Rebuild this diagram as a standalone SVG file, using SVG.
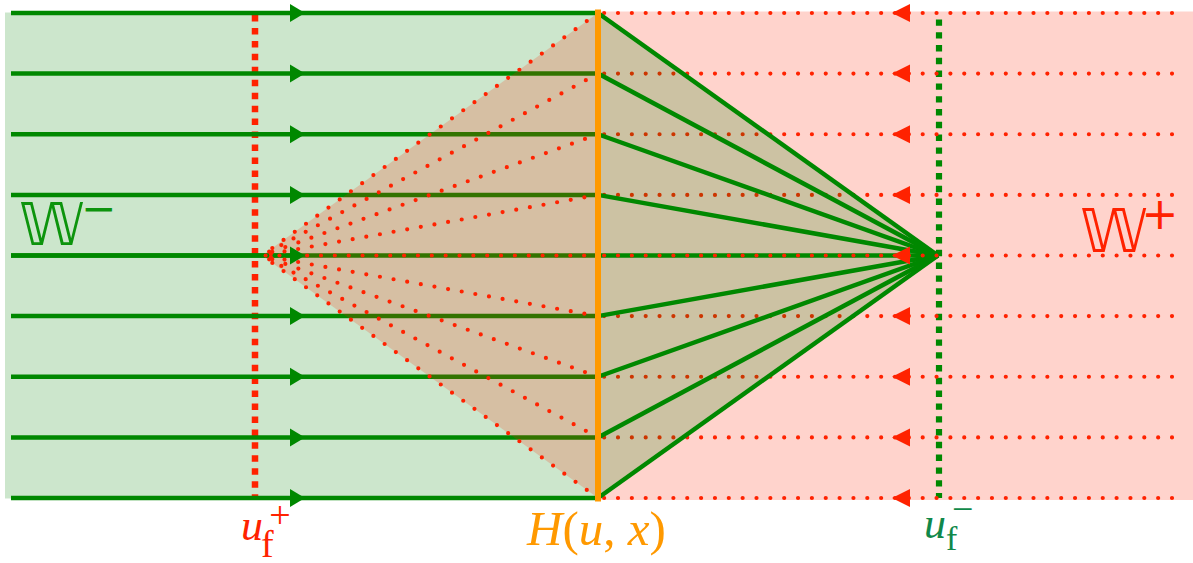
<svg xmlns="http://www.w3.org/2000/svg" width="1193" height="563" viewBox="0 0 1193 563">
<style>
.gl{stroke:#008800;stroke-width:4.5;fill:none}
.rd{stroke:#ff2200;stroke-width:4.2;stroke-linecap:round;stroke-dasharray:0 13.85;fill:none}
.ga{fill:#008800}
.ra{fill:#ff2200}
.it{font-family:"Liberation Serif",serif;font-style:italic}
.up{font-family:"Liberation Serif",serif;font-style:normal}
.ds{font-family:"DejaVu Sans",sans-serif}
</style>
<g id="regions">
<rect x="5" y="12.5" width="593" height="486" fill="#008000" fill-opacity="0.2"/>
<rect x="598" y="11.5" width="595" height="488.5" fill="#ff2200" fill-opacity="0.2"/>
</g>
<g id="fronts">
<line x1="255" y1="15" x2="255" y2="498" stroke="#ff2200" stroke-width="6.5" stroke-dasharray="6.5 6.45"/>
<line x1="939" y1="19.4" x2="939" y2="498" stroke="#008800" stroke-width="6.2" stroke-dasharray="6.4 6.4"/>
</g>
<g id="connectors">
<g id="green-rows" class="gl">
<line x1="11" y1="13" x2="598" y2="13"/>
<line x1="11" y1="73.6" x2="598" y2="73.6"/>
<line x1="11" y1="134.25" x2="598" y2="134.25"/>
<line x1="11" y1="194.9" x2="598" y2="194.9"/>
<line x1="11" y1="255.5" x2="598" y2="255.5"/>
<line x1="11" y1="316.1" x2="598" y2="316.1"/>
<line x1="11" y1="376.75" x2="598" y2="376.75"/>
<line x1="11" y1="437.4" x2="598" y2="437.4"/>
<line x1="11" y1="498" x2="598" y2="498"/>
</g>
<g id="red-rows" class="rd">
<line x1="1172" y1="13" x2="600" y2="13"/>
<line x1="1172" y1="73.6" x2="600" y2="73.6"/>
<line x1="1172" y1="134.25" x2="600" y2="134.25"/>
<line x1="1172" y1="194.9" x2="600" y2="194.9"/>
<line x1="1172" y1="316.1" x2="600" y2="316.1"/>
<line x1="1172" y1="376.75" x2="600" y2="376.75"/>
<line x1="1172" y1="437.4" x2="600" y2="437.4"/>
<line x1="1172" y1="498" x2="600" y2="498"/>
</g>
<polygon id="fan-left" points="262,255.5 598,13 598,498" fill="#ff2200" fill-opacity="0.2"/>
<polygon id="fan-right" points="598,13 938,255.5 598,498" fill="#008000" fill-opacity="0.2"/>
<g id="green-rows-front" class="gl">
<line x1="11" y1="255.5" x2="300" y2="255.5"/>
</g>
<g id="green-fan" class="gl">
<line x1="598" y1="13" x2="938" y2="255.5"/>
<line x1="598" y1="73.6" x2="938" y2="255.5"/>
<line x1="598" y1="134.25" x2="938" y2="255.5"/>
<line x1="598" y1="194.9" x2="938" y2="255.5"/>
<line x1="598" y1="255.5" x2="938" y2="255.5"/>
<line x1="598" y1="316.1" x2="938" y2="255.5"/>
<line x1="598" y1="376.75" x2="938" y2="255.5"/>
<line x1="598" y1="437.4" x2="938" y2="255.5"/>
<line x1="598" y1="498" x2="938" y2="255.5"/>
</g>
<g id="red-fan" class="rd">
<line x1="598" y1="13" x2="262" y2="255.5"/>
<line x1="598" y1="73.6" x2="262" y2="255.5"/>
<line x1="598" y1="134.25" x2="262" y2="255.5"/>
<line x1="598" y1="194.9" x2="262" y2="255.5"/>
<line x1="598" y1="255.5" x2="262" y2="255.5"/>
<line x1="598" y1="316.1" x2="262" y2="255.5"/>
<line x1="598" y1="376.75" x2="262" y2="255.5"/>
<line x1="598" y1="437.4" x2="262" y2="255.5"/>
<line x1="598" y1="498" x2="262" y2="255.5"/>
<line x1="1172" y1="255.5" x2="600" y2="255.5"/>
</g>
<g id="green-arrows" class="ga">
<polygon points="290,4 305,13 290,22"/>
<polygon points="290,64.6 305,73.6 290,82.6"/>
<polygon points="290,125.25 305,134.25 290,143.25"/>
<polygon points="290,185.9 305,194.9 290,203.9"/>
<polygon points="290,246.5 305,255.5 290,264.5"/>
<polygon points="290,307.1 305,316.1 290,325.1"/>
<polygon points="290,367.75 305,376.75 290,385.75"/>
<polygon points="290,428.4 305,437.4 290,446.4"/>
<polygon points="290,489 305,498 290,507"/>
</g>
<g id="red-arrows" class="ra">
<polygon points="892,13 910,4 910,22"/>
<polygon points="892,73.6 910,64.6 910,82.6"/>
<polygon points="892,134.25 910,125.25 910,143.25"/>
<polygon points="892,194.9 910,185.9 910,203.9"/>
<polygon points="892,255.5 910,246.5 910,264.5"/>
<polygon points="892,316.1 910,307.1 910,325.1"/>
<polygon points="892,376.75 910,367.75 910,385.75"/>
<polygon points="892,437.4 910,428.4 910,446.4"/>
<polygon points="892,498 910,489 910,507"/>
</g>
</g>
<g id="interface">
<line x1="598" y1="9.5" x2="598" y2="501.5" stroke="#ff9900" stroke-width="6"/>
</g>
<g id="label-wminus">
<text class="ds" fill="#0c940c"><tspan x="19" y="245" font-size="59">𝕎</tspan><tspan x="81" y="223" font-size="42">−</tspan></text>
</g>
<g id="label-wplus">
<text class="ds" fill="#ff2200"><tspan x="1080" y="252" font-size="61">𝕎</tspan><tspan x="1141.5" y="229" font-size="44">+</tspan></text>
</g>
<g id="label-ufplus">
<text fill="#ff2200"><tspan x="241" y="540" class="it" font-size="44">u</tspan><tspan x="261" y="557" class="up" font-size="38">f</tspan><tspan x="269.3" y="527.5" class="up" font-size="38">+</tspan></text>
</g>
<g id="label-H">
<text x="527" y="545" font-size="49" fill="#ff9900"><tspan class="it">H</tspan><tspan class="up">(</tspan><tspan class="it">u</tspan><tspan class="up">, </tspan><tspan class="it">x</tspan><tspan class="up">)</tspan></text>
</g>
<g id="label-ufminus">
<text fill="#10884a"><tspan x="924" y="538" class="it" font-size="44">u</tspan><tspan x="946" y="550" class="up" font-size="34">f</tspan><tspan x="952" y="521.5" class="up" font-size="38">−</tspan></text>
</g>
</svg>
